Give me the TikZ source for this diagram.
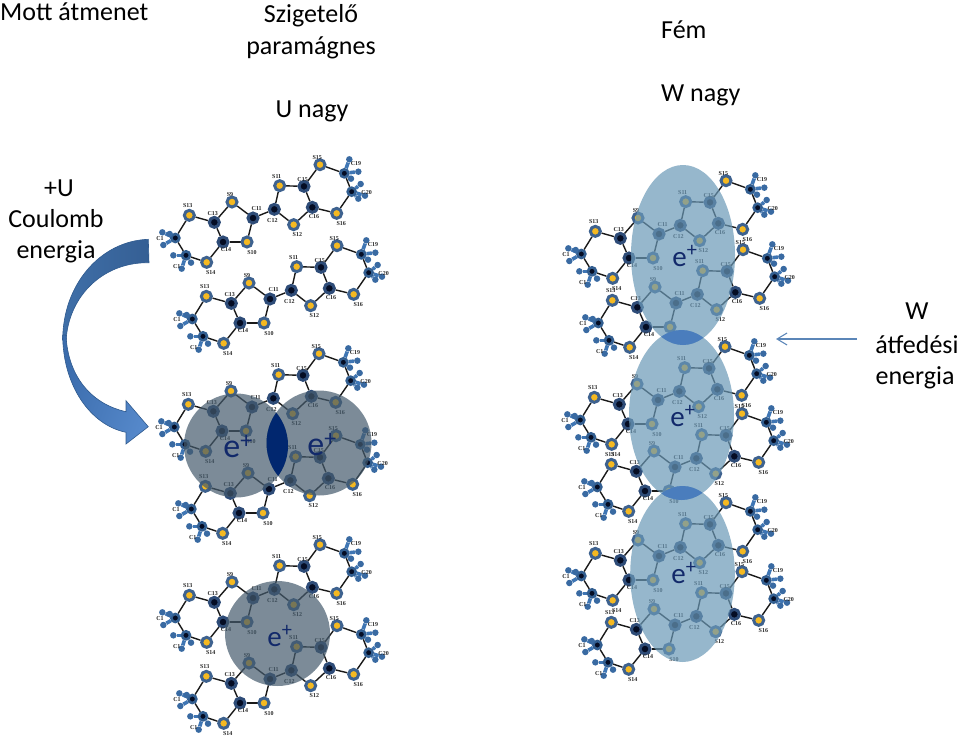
\documentclass[tikz,border=0pt]{standalone}
\usepackage{fontspec}
\setmainfont{Carlito}
\newfontfamily\lblfont{Liberation Serif}
\usetikzlibrary{arrows.meta,backgrounds}
\definecolor{sring}{HTML}{3E628F}
\definecolor{syel}{HTML}{F5B921}
\definecolor{cring}{HTML}{2E4C78}
\definecolor{cdark}{HTML}{050D24}
\definecolor{mblue}{HTML}{3F76B4}
\definecolor{ellfill}{HTML}{6A98B6}
\definecolor{cirfill}{HTML}{445A6C}
\definecolor{overlapb}{HTML}{4A7DBD}
\definecolor{lensb}{HTML}{01276F}
\definecolor{etext}{HTML}{12296A}
\definecolor{wline}{HTML}{5B86B8}
\definecolor{arrowa}{HTML}{355F94}
\definecolor{arrowb}{HTML}{3F6FA8}
\definecolor{arrowc}{HTML}{3B6CAC}
\definecolor{arrowd}{HTML}{5588CA}
\definecolor{arrowl}{HTML}{2F5A8E}
\tikzset{
 sulfur/.style={circle,inner sep=0pt,minimum size=10pt,fill=syel,draw=sring,line width=3pt},
 carbon/.style={circle,inner sep=0pt,minimum size=10pt,fill=cdark,draw=cring,line width=3pt},
 methylc/.style={circle,inner sep=0pt,minimum size=8pt,fill=cdark,draw=mblue!80!black,line width=2.6pt},
 methyle/.style={circle,inner sep=0pt,minimum size=6.5pt,fill=mblue!90!black},
 bond/.style={line width=1.4pt,black!90},
 arm/.style={line width=3.6pt,mblue},
 atomlab/.style={font=\lblfont\bfseries\fontsize{6}{6}\selectfont,inner sep=0pt,text=black!85},
 big/.style={font=\fontsize{26}{26}\selectfont,inner sep=0pt,text=black},
 eplus/.style={font=\fontsize{#1}{#1}\selectfont,inner sep=0pt,text=etext},
 cloud/.style={fill=ellfill,fill opacity=.7,draw=none},
 blob/.style={fill=cirfill,fill opacity=.7,draw=none},
 arrowpart/.style={draw=arrowl,line width=.6pt},
}
\newcommand{\molecule}[3]{%
\begin{scope}[shift={(#2,#3)},x=0.3333pt,y=-0.3333pt]
 \foreach \n/\px/\py in {S13/-191/-8,S9/-63/-48,S10/-18/72,S14/-139/133,S11/80/-97,S12/122/20,S15/201/-160,S16/251/-14}
   \node[sulfur] (#1\n) at (\px,\py) {};
 \foreach \n/\px/\py in {C13/-116/13,C11/0/0,C14/-90/72,C12/64/-26,C15/153/-95,C16/178/-32}
   \node[carbon] (#1\n) at (\px,\py) {};
 \foreach \n/\px/\py in {Ca/-233/60,Cb/-201/112,Cc/274/-134,Cd/296/-79}
   \node[methylc] (#1\n) at (\px,\py) {};
 \foreach \n/\px/\py in {Ca1/-272/43,Ca2/-269/81,Ca3/-250/48,Cb1/-239/112,Cb2/-214/152,Cb3/-186/134,Cc1/289/-176,Cc2/316/-139,Cc3/294/-118,Cd1/323/-102,Cd2/336/-67,Cd3/316/-58}
   \node[methyle] (#1\n) at (\px,\py) {};
 \begin{scope}[on background layer]
  \foreach \a/\b in {S13/C13,C13/S9,S9/C11,C11/S10,S10/C14,C14/C13,C14/S14,S14/Cb,Cb/Ca,Ca/S13,C11/C12,C12/S11,S11/C15,C15/C16,C16/S12,S12/C12,C15/S15,S15/Cc,Cc/Cd,Cd/S16,S16/C16}
    \draw[bond] (#1\a) -- (#1\b);
  \foreach \g in {Ca,Cb,Cc,Cd}{
    \foreach \k in {1,2,3} \draw[arm] (#1\g) -- (#1\g\k);
  }
 \end{scope}
 \foreach \n/\px/\py/\t in {L1/-196/-36/S13,L2/-121/-14/C13,L3/-69/-71/S9,L4/11/-29/C11,L5/58/9/C12,L6/-3/104/S10,L7/-81/96/C14,L8/-127/164/S14,L9/71/-124/S11,L10/149/-114/C15,L11/183/-4/C16,L12/133/51/S12,L13/193/-182/S15,L14/309/-162/C19,L15/341/-76/C20,L16/265/18/S16,L17/-279/61/C1,L18/-229/146/C1}
   \node[atomlab] (#1\n) at (\px,\py) {\t};
\end{scope}}
\begin{document}
\begin{tikzpicture}[x=1pt,y=-1pt]
\useasboundingbox (0,0) rectangle (960,739);
% molecules
\molecule{Ma}{253}{218}
\molecule{Mb}{270}{299}
\molecule{Mc}{252}{407}
\molecule{Md}{269}{489}
\molecule{Me}{253}{598}
\molecule{Mf}{270}{679}
\molecule{Mg}{659}{234}
\molecule{Mh}{676}{303}
\molecule{Mi}{658}{400}
\molecule{Mj}{675}{467}
\molecule{Mk}{659}{556}
\molecule{Ml}{675}{625}
% left blobs
\path[blob] (236,445.5) circle[radius=52];
\path[blob] (319,443) circle[radius=52.5];
\path[blob] (277.5,633.5) circle[radius=52.5];
\begin{scope}
 \clip (236,445.5) circle[radius=52];
 \fill[lensb] (319,443) circle[radius=52.5];
\end{scope}
% right clouds
\path[cloud] (683,255) ellipse[x radius=52,y radius=90];
\path[cloud] (681.5,415) ellipse[x radius=52.5,y radius=85];
\path[cloud] (682.5,574) ellipse[x radius=52.3,y radius=88];
\begin{scope}
 \clip (683,255) ellipse[x radius=52,y radius=90];
 \fill[overlapb] (681.5,415) ellipse[x radius=52.5,y radius=85];
\end{scope}
\begin{scope}
 \clip (681.5,415) ellipse[x radius=52.5,y radius=85];
 \fill[overlapb] (682.5,574) ellipse[x radius=52.3,y radius=88];
\end{scope}
% e+
\node[eplus=34] (e1) at (238,447) {e\textsuperscript{+}};
\node[eplus=34] (e2) at (322,445) {e\textsuperscript{+}};
\node[eplus=29] (e3) at (280,636) {e\textsuperscript{+}};
\node[eplus=29] (e4) at (685,256) {e\textsuperscript{+}};
\node[eplus=29] (e5) at (683,416) {e\textsuperscript{+}};
\node[eplus=29] (e6) at (684,573) {e\textsuperscript{+}};
% big curved arrow
\shade[arrowpart,left color=arrowb,right color=arrowa]
 (148.3,239.3) .. controls (100,241) and (62.7,285) .. (62.7,340)
 -- (66,345) .. controls (66,300) and (100,262) .. (149,262.7) -- cycle;
\shade[arrowpart,left color=arrowc,right color=arrowd,shading angle=70]
 (62.7,335) .. controls (62.7,385) and (90,425) .. (126,432.3)
 -- (126,444) -- (148.3,426.7) -- (126,400.7) -- (126,411.7)
 .. controls (95,405) and (68,380) .. (66,335) -- cycle;
% texts
\node[big,anchor=west] (t1) at (0,12) {Mott átmenet};
\node[big] (t2) at (311,16) {Szigetelő};
\node[big] (t3) at (311,48) {paramágnes};
\node[big] (t4) at (312,111) {U nagy};
\node[big,anchor=west] (t5) at (661,30) {Fém};
\node[big,anchor=west] (t6) at (661,95) {W nagy};
\node[big] (t7) at (59,188) {+U};
\node[big] (t8) at (56,219) {Coulomb};
\node[big] (t9) at (56,252) {energia};
\node[big] (t10) at (917,311) {W};
\node[big] (t11) at (917,345) {átfedési};
\node[big] (t12) at (915,378) {energia};
% thin arrow
\coordinate (wa) at (857,339);
\coordinate (wb) at (776,339);
\draw[wline,line width=1.1pt,-{Straight Barb[length=10pt,width=12pt]}] (wa) -- (wb);
\end{tikzpicture}
\end{document}
